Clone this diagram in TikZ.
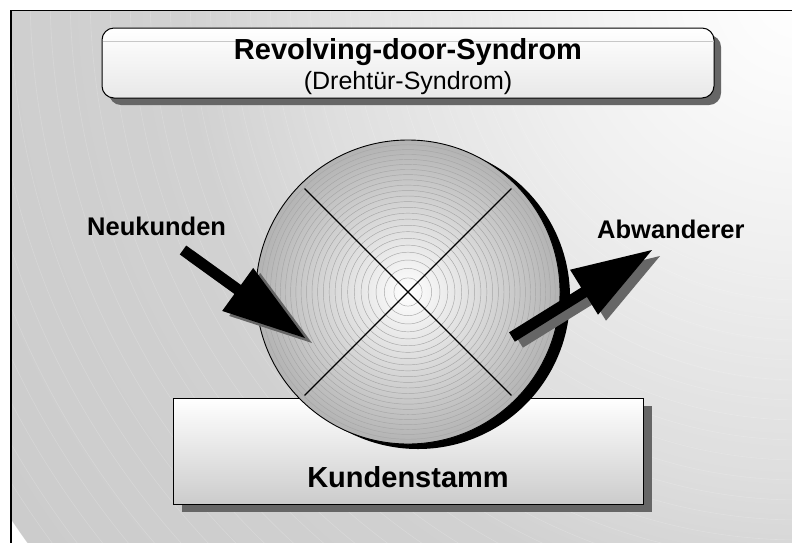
\documentclass[tikz,border=0pt]{standalone}
\usepackage{fontspec}
\setmainfont{Liberation Sans}
\usetikzlibrary{calc}
\pgfdeclareradialshading{bgshade}{\pgfpoint{0bp}{0bp}}{color(0bp)=(white); color(2.6bp)=(black!2); color(6.8bp)=(black!6); color(12.9bp)=(black!13); color(16.3bp)=(black!18); color(25bp)=(black!20); color(50bp)=(black!20)}
\definecolor{shadowgray}{HTML}{666666}
\tikzset{
  frameline/.style={draw=black, line width=1.4pt},
  bgarc/.style={draw=white, opacity=0.18, line width=0.6pt},
  boxshadow/.style={fill=shadowgray, draw=none, inner sep=0pt},
  titlebox/.style={draw=black, line width=1pt, rounded corners=12pt, top color=white, bottom color=black!9, inner sep=0pt, minimum width=612pt, minimum height=70pt},
  stammbox/.style={draw=black, line width=1pt, top color=white, bottom color=black!20, inner sep=0pt, minimum width=470pt, minimum height=106pt},
  disc/.style={circle, draw=black, line width=0.9pt, inner color=white, outer color=black!30, inner sep=0pt, minimum size=304pt},
  discshadow/.style={circle, fill=black, inner sep=0pt, minimum size=304pt},
  ring/.style={draw=black!35, line width=0.45pt},
  crossline/.style={draw=black, line width=1.1pt},
  lbl/.style={inner sep=0pt, font=\bfseries\fontsize{25.5}{30}\selectfont},
  bigtxt/.style={inner sep=0pt, font=\bfseries\fontsize{29}{34}\selectfont},
  subtxt/.style={inner sep=0pt, font=\fontsize{25}{30}\selectfont},
  arrowbody/.style={fill=black},
  arrowshadow/.style={fill=shadowgray},
}
% fat arrow from #1 (tail) to #2 (tip), head length #3, style #4
\newcommand\fatarrow[4]{%
  \fill[#4] ($(#1)!5.5pt!90:(#2)$)
    -- ($(#2)!#3!(#1)!5.5pt!-90:(#1)$)
    -- ($(#2)!#3!(#1)!26.5pt!-90:(#1)$)
    -- (#2)
    -- ($(#2)!#3!(#1)!26.5pt!90:(#1)$)
    -- ($(#2)!#3!(#1)!5.5pt!90:(#1)$)
    -- ($(#1)!5.5pt!-90:(#2)$) -- cycle;}
\begin{document}
\begin{tikzpicture}[x=1pt, y=-1pt]
\useasboundingbox (0,0) rectangle (792,542);
\fill[white] (0,0) rectangle (792,542);
% background
\begin{scope}
  \clip (11,10.5) rectangle (792,542);
  \shade[shading=bgshade] (800,-10) circle (950);
  \foreach \r in {290,310,...,1010} \draw[bgarc] (800,-10) circle (\r);
\end{scope}
\draw[frameline] (11,545) -- (11,10.5) -- (795,10.5);
% title
\node[boxshadow, rounded corners=12pt, minimum width=612pt, minimum height=70pt] (titleshadow) at (415,70) {};
\node[titlebox] (title) at (408,63) {};
\draw[black!22, line width=0.6pt] ($(title.west)+(1,-22)$) -- ($(title.east)+(-1,-22)$);
\node[bigtxt, anchor=base] (titletext) at (408,59) {Revolving-door-Syndrom};
\node[subtxt, anchor=base] (subtext) at (408,89) {(Drehtür-Syndrom)};
% Kundenstamm box
\node[boxshadow, minimum width=470pt, minimum height=106pt] (stammshadow) at (417,459) {};
\node[stammbox] (stamm) at (408,451) {};
\node[bigtxt, anchor=base] (stammtext) at (408,487) {Kundenstamm};
% revolving disc
\node[discshadow] (discshadow) at (418,297) {};
\node[disc] (disc) at (408,292) {};
\foreach \k in {1,...,23} \draw[ring] (disc.center) circle ({152*(\k/24)^0.75});
\draw[crossline] ($(disc.center)!0.96!(disc.north west)$) -- ($(disc.center)!0.96!(disc.south east)$);
\draw[crossline] ($(disc.center)!0.96!(disc.north east)$) -- ($(disc.center)!0.96!(disc.south west)$);
% arrows
\coordinate (nkTail) at (183,250);
\coordinate (nkTip) at (305,338);
\coordinate (nkTailS) at ($(nkTail)+(7,5)$);
\coordinate (nkTipS) at ($(nkTip)+(7,5)$);
\coordinate (abTail) at (512,337);
\coordinate (abTip) at (652,250);
\coordinate (abTailS) at ($(abTail)+(8,6)$);
\coordinate (abTipS) at ($(abTip)+(8,6)$);
\fatarrow{nkTailS}{nkTipS}{83pt}{arrowshadow}
\fatarrow{nkTail}{nkTip}{83pt}{arrowbody}
\fatarrow{abTailS}{abTipS}{80pt}{arrowshadow}
\fatarrow{abTail}{abTip}{80pt}{arrowbody}
% labels
\node[lbl, anchor=base west] (neu) at (87,235) {Neukunden};
\node[lbl, anchor=base west] (abw) at (597,238) {Abwanderer};
\end{tikzpicture}
\end{document}
